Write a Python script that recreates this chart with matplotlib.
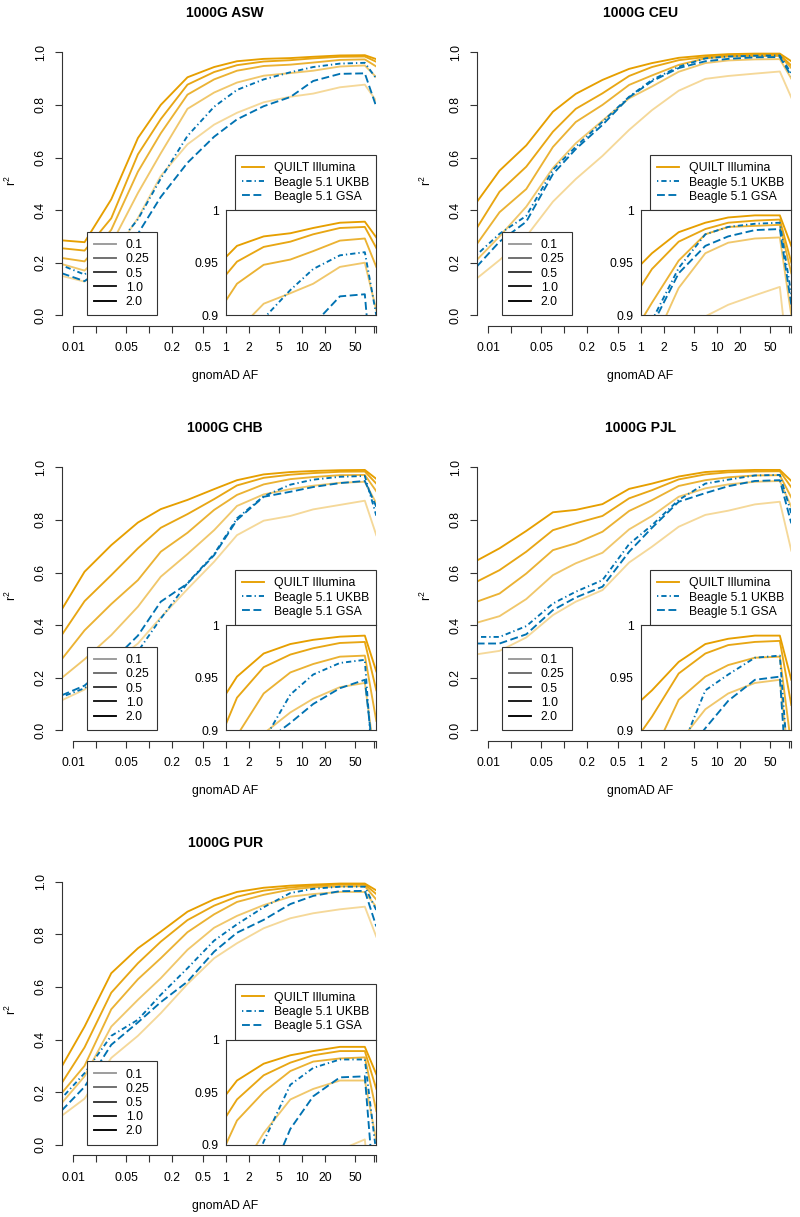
import matplotlib
matplotlib.use("Agg")
import matplotlib.pyplot as plt
from matplotlib.lines import Line2D
from matplotlib.ticker import NullLocator

plt.rcParams['font.family'] = ['Liberation Sans', 'DejaVu Sans']
plt.rcParams['mathtext.fontset'] = 'custom'
plt.rcParams['mathtext.rm'] = 'Liberation Sans'
plt.rcParams['mathtext.it'] = 'Liberation Sans'

# bin centres of gnomAD AF (%), log scale
af_mid = [0.00707, 0.0141, 0.0316, 0.0707, 0.141, 0.316, 0.707,
          1.41, 3.16, 7.07, 14.1, 31.6, 67.1, 94.9]
xticks = [0.01, 0.02, 0.05, 0.1, 0.2, 0.5, 1, 2, 5, 10, 20, 50, 88, 94.9]
xticklabels = ['0.01', '', '0.05', '', '0.2', '0.5', '1', '2', '5', '10', '20', '50', '', '']

coverages = ['0.1', '0.25', '0.5', '1.0', '2.0']
cov_alpha = [0.4, 0.58, 0.8, 0.92, 1.0]

# QUILT rows ordered by coverage 0.1 .. 2.0
asw_quilt = [
    [0.150, 0.128, 0.22, 0.37, 0.53, 0.650, 0.725, 0.770, 0.810, 0.831, 0.843, 0.867, 0.877, 0.815],
    [0.195, 0.170, 0.27, 0.465, 0.616, 0.785, 0.847, 0.885, 0.911, 0.921, 0.930, 0.946, 0.950, 0.905],
    [0.218, 0.205, 0.325, 0.546, 0.692, 0.839, 0.897, 0.930, 0.948, 0.953, 0.961, 0.971, 0.973, 0.946],
    [0.255, 0.246, 0.369, 0.612, 0.746, 0.877, 0.925, 0.951, 0.965, 0.970, 0.977, 0.983, 0.984, 0.964],
    [0.285, 0.278, 0.441, 0.674, 0.800, 0.905, 0.944, 0.966, 0.975, 0.978, 0.983, 0.988, 0.989, 0.974],
]
asw_ukbb = [0.190, 0.155, 0.24, 0.365, 0.520, 0.682, 0.793, 0.857, 0.897, 0.924, 0.944, 0.957, 0.960, 0.900]
asw_gsa = [0.160, 0.130, 0.20, 0.310, 0.450, 0.580, 0.679, 0.745, 0.795, 0.830, 0.891, 0.918, 0.920, 0.793]

ceu_quilt = [
    [0.140, 0.21, 0.30, 0.432, 0.518, 0.606, 0.705, 0.780, 0.854, 0.899, 0.910, 0.919, 0.927, 0.828],
    [0.210, 0.30, 0.413, 0.560, 0.654, 0.740, 0.825, 0.870, 0.926, 0.959, 0.969, 0.973, 0.974, 0.900],
    [0.270, 0.392, 0.480, 0.640, 0.735, 0.800, 0.876, 0.912, 0.952, 0.977, 0.984, 0.985, 0.986, 0.940],
    [0.331, 0.470, 0.565, 0.698, 0.785, 0.844, 0.910, 0.944, 0.970, 0.982, 0.988, 0.990, 0.991, 0.950],
    [0.430, 0.550, 0.646, 0.774, 0.842, 0.895, 0.937, 0.959, 0.979, 0.988, 0.993, 0.995, 0.995, 0.966],
]
ceu_ukbb = [0.230, 0.31, 0.378, 0.553, 0.641, 0.736, 0.831, 0.895, 0.945, 0.977, 0.984, 0.987, 0.988, 0.920]
ceu_gsa = [0.185, 0.28, 0.356, 0.537, 0.632, 0.724, 0.829, 0.890, 0.940, 0.966, 0.975, 0.981, 0.982, 0.910]

chb_quilt = [
    [0.114, 0.155, 0.25, 0.33, 0.429, 0.537, 0.641, 0.742, 0.797, 0.815, 0.840, 0.857, 0.873, 0.742],
    [0.199, 0.27, 0.362, 0.470, 0.584, 0.670, 0.761, 0.853, 0.897, 0.917, 0.930, 0.941, 0.945, 0.863],
    [0.270, 0.38, 0.480, 0.571, 0.679, 0.751, 0.838, 0.895, 0.935, 0.955, 0.963, 0.970, 0.971, 0.909],
    [0.362, 0.491, 0.590, 0.692, 0.770, 0.822, 0.879, 0.931, 0.960, 0.972, 0.978, 0.983, 0.984, 0.938],
    [0.459, 0.603, 0.704, 0.790, 0.841, 0.876, 0.917, 0.951, 0.973, 0.982, 0.986, 0.989, 0.990, 0.956],
]
chb_ukbb = [0.127, 0.16, 0.24, 0.30, 0.425, 0.560, 0.670, 0.806, 0.890, 0.934, 0.953, 0.964, 0.967, 0.816]
chb_gsa = [0.133, 0.17, 0.26, 0.36, 0.489, 0.558, 0.666, 0.800, 0.888, 0.907, 0.925, 0.940, 0.948, 0.850]

pjl_quilt = [
    [0.289, 0.302, 0.353, 0.438, 0.489, 0.533, 0.638, 0.698, 0.774, 0.819, 0.835, 0.859, 0.869, 0.683],
    [0.409, 0.434, 0.499, 0.590, 0.635, 0.675, 0.764, 0.815, 0.888, 0.920, 0.935, 0.945, 0.948, 0.850],
    [0.489, 0.520, 0.596, 0.685, 0.711, 0.755, 0.834, 0.875, 0.929, 0.951, 0.962, 0.969, 0.970, 0.885],
    [0.565, 0.609, 0.679, 0.761, 0.787, 0.815, 0.882, 0.913, 0.954, 0.973, 0.981, 0.984, 0.985, 0.924],
    [0.645, 0.692, 0.758, 0.829, 0.838, 0.860, 0.918, 0.938, 0.965, 0.982, 0.987, 0.990, 0.990, 0.948],
]
pjl_ukbb = [0.355, 0.355, 0.396, 0.482, 0.527, 0.571, 0.708, 0.780, 0.876, 0.938, 0.953, 0.969, 0.971, 0.825]
pjl_gsa = [0.330, 0.330, 0.365, 0.457, 0.505, 0.546, 0.679, 0.770, 0.869, 0.902, 0.928, 0.948, 0.951, 0.787]

pur_quilt = [
    [0.110, 0.175, 0.33, 0.414, 0.500, 0.611, 0.709, 0.766, 0.823, 0.861, 0.880, 0.895, 0.905, 0.791],
    [0.158, 0.26, 0.449, 0.551, 0.633, 0.741, 0.825, 0.870, 0.911, 0.943, 0.953, 0.961, 0.961, 0.904],
    [0.196, 0.30, 0.515, 0.629, 0.709, 0.808, 0.876, 0.923, 0.950, 0.970, 0.979, 0.982, 0.983, 0.932],
    [0.234, 0.370, 0.578, 0.690, 0.772, 0.854, 0.909, 0.943, 0.966, 0.978, 0.985, 0.989, 0.989, 0.953],
    [0.297, 0.449, 0.652, 0.747, 0.810, 0.886, 0.933, 0.961, 0.977, 0.985, 0.989, 0.993, 0.993, 0.967],
]
pur_ukbb = [0.177, 0.272, 0.414, 0.475, 0.570, 0.671, 0.776, 0.838, 0.903, 0.957, 0.973, 0.981, 0.981, 0.892]
pur_gsa = [0.130, 0.22, 0.380, 0.465, 0.542, 0.620, 0.734, 0.806, 0.855, 0.915, 0.946, 0.964, 0.965, 0.830]

panels = [
    ("1000G ASW", asw_quilt, asw_ukbb, asw_gsa),
    ("1000G CEU", ceu_quilt, ceu_ukbb, ceu_gsa),
    ("1000G CHB", chb_quilt, chb_ukbb, chb_gsa),
    ("1000G PJL", pjl_quilt, pjl_ukbb, pjl_gsa),
    ("1000G PUR", pur_quilt, pur_ukbb, pur_gsa),
]

ORANGE = '#E69F00'
BLUE = '#0072B2'
AXCOL = '#333333'
LW = 1.35
DASHDOT = (0.7, 1.6, 2.8, 1.6)
DASHED = (4.2, 1.9)
FS = 8.8

W, H = 800, 1217
fig = plt.figure(figsize=(W / 100, H / 100), dpi=100)

col_left = [61.7, 476.7]   # pixel x of the y axis
row_one = [52.3, 467.3, 881.7]  # pixel y of r2 = 1.0
unit = 263.0   # pixels per r2 unit
ax_w = 314.6


def draw_lines(a, quilt, ukbb, gsa):
    for k in range(5):
        a.plot(af_mid, quilt[k], color=ORANGE, alpha=cov_alpha[k], lw=LW)
    a.plot(af_mid, ukbb, color=BLUE, lw=LW, dashes=DASHDOT)
    a.plot(af_mid, gsa, color=BLUE, lw=LW, dashes=DASHED)


for i, (title, quilt, ukbb, gsa) in enumerate(panels):
    L = col_left[i % 2]
    T = row_one[i // 2]
    ax = fig.add_axes([L / W, 1 - (T + 1.04 * unit) / H, ax_w / W, 1.08 * unit / H])
    ax.set_xscale('log')
    ax.set_xlim(af_mid[0], af_mid[-1])
    ax.set_ylim(-0.04, 1.04)
    ax.patch.set_visible(False)

    draw_lines(ax, quilt, ukbb, gsa)

    for s in ['top', 'right']:
        ax.spines[s].set_visible(False)
    for s in ['left', 'bottom']:
        ax.spines[s].set_color(AXCOL)
        ax.spines[s].set_linewidth(0.8)
    ax.spines['left'].set_bounds(0, 1)
    ax.spines['bottom'].set_bounds(0.01, af_mid[-1])

    ax.set_xticks(xticks)
    ax.set_xticklabels(xticklabels)
    ax.xaxis.set_minor_locator(NullLocator())
    ax.set_yticks([0, 0.2, 0.4, 0.6, 0.8, 1.0])
    ax.set_yticklabels(['0.0', '0.2', '0.4', '0.6', '0.8', '1.0'])
    ax.tick_params(length=4.8, width=0.8, color=AXCOL, labelsize=FS, pad=7)
    ax.tick_params(axis='y', pad=6)
    for t in ax.get_yticklabels():
        t.set_rotation(90)
        t.set_va('center')

    # method legend
    mh = [Line2D([], [], color=ORANGE, lw=LW),
          Line2D([], [], color=BLUE, lw=LW, dashes=DASHDOT),
          Line2D([], [], color=BLUE, lw=LW, dashes=DASHED)]
    leg1 = ax.legend(mh, ['QUILT Illumina', 'Beagle 5.1 UKBB', 'Beagle 5.1 GSA'],
                     loc='lower right', bbox_to_anchor=(1.0, 0.44 / 1.08),
                     borderaxespad=0, fancybox=False, framealpha=1, edgecolor=AXCOL,
                     fontsize=FS, handlelength=1.8, handletextpad=0.8,
                     labelspacing=0.18, borderpad=0.6)
    leg1.get_frame().set_linewidth(0.8)
    ax.add_artist(leg1)

    # coverage legend
    ch = [Line2D([], [], color='black', alpha=cov_alpha[k], lw=LW) for k in range(5)]
    leg2 = ax.legend(ch, coverages, loc='lower left',
                     bbox_to_anchor=(25 / ax_w, 0.04 / 1.08),
                     borderaxespad=0, fancybox=False, framealpha=1, edgecolor=AXCOL,
                     fontsize=FS, handlelength=1.8, handletextpad=0.8,
                     labelspacing=0.18, borderpad=0.6)
    leg2.get_frame().set_linewidth(0.8)

    # zoomed inset over the common variants
    ins = ax.inset_axes([1, 0, af_mid[-1] - 1, 0.4], transform=ax.transData)
    ins.set_facecolor('white')
    ins.set_xscale('log')
    draw_lines(ins, quilt, ukbb, gsa)
    ins.set_xlim(1, af_mid[-1])
    ins.set_ylim(0.9, 1.0)
    ins.set_xticks([])
    ins.xaxis.set_minor_locator(NullLocator())
    ins.set_yticks([0.9, 0.95, 1.0])
    ins.set_yticklabels(['0.9', '0.95', '1'])
    ins.tick_params(length=0, labelsize=FS, pad=5)
    for s in ins.spines.values():
        s.set_color(AXCOL)
        s.set_linewidth(0.8)

    fig.text((L + 163.5) / W, 1 - (T - 39) / H, title, ha='center', va='center',
             fontsize=10, fontweight='bold')
    fig.text((L + 163.5) / W, 1 - (T + 324) / H, 'gnomAD AF', ha='center', va='center',
             fontsize=FS)
    fig.text((L - 50) / W, 1 - (T + 128) / H, r'$\mathregular{r^2}$', ha='center',
             va='center', rotation=90, fontsize=FS)

fig.savefig('out.png', dpi=100)
